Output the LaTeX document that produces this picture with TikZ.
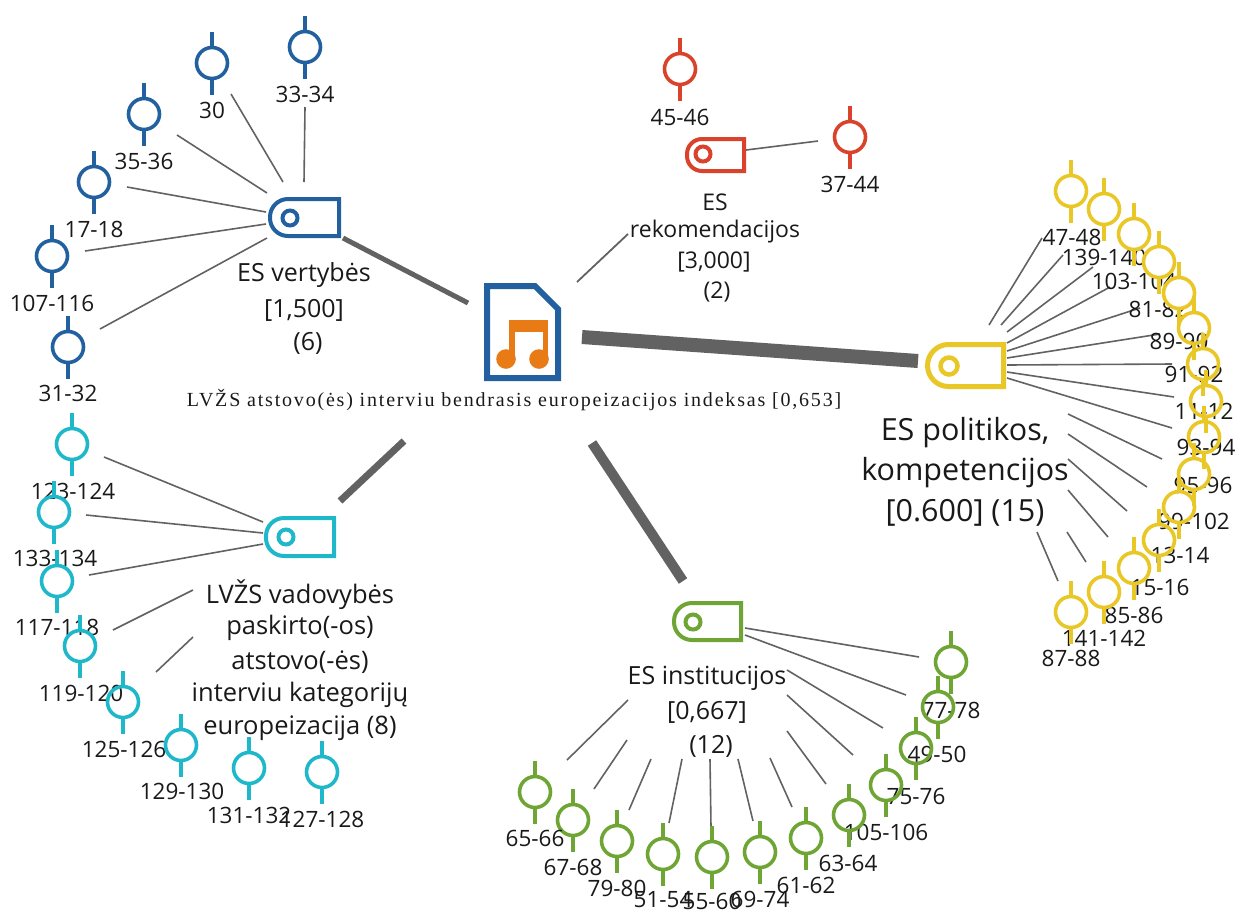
\documentclass[tikz,border=0pt]{standalone}
\usepackage{fontspec}
\setmainfont{Open Sans}
\newfontfamily\serifcap[LetterSpace=9]{Liberation Serif}
\definecolor{cblue}{HTML}{22609F}
\definecolor{cred}{HTML}{D9432C}
\definecolor{cyel}{HTML}{E8C726}
\definecolor{cteal}{HTML}{1FB8CA}
\definecolor{cgrn}{HTML}{6EA534}
\definecolor{cgray}{HTML}{626262}
\definecolor{corg}{HTML}{E97B16}
\tikzset{
  pinhead/.style={circle,draw=#1,minimum size=31pt,inner sep=0pt,outer sep=0pt,line width=3.6pt},
  pinstem/.style={draw=#1,line width=3.6pt},
  pinlabel/.style={inner sep=0pt,font=\fontsize{22.5}{22.5}\selectfont,text=black!90},
  captxt/.style={inner sep=0pt,align=center,text=black!90},
  link/.style={draw=cgray,line width=1.6pt},
  tagbody/.style={draw=#1,line width=4pt},
  tagring/.style={draw=#1,line width=4pt,minimum size=15pt},
}
\newcommand\pin[8][]{% opts,name,col,x,y,label,lx,ly
  \node[pinhead=#3,#1] (#2) at (#4,#5) {};
  \draw[pinstem=#3] (#2.north) -- ++(0,-16);
  \draw[pinstem=#3] (#2.south) -- ++(0,16);
  \node[pinlabel] (#2-t) at (#7,#8) {#6};
}
\newcommand\lnk[5][]{% opts, name, x1,y1 ; x2,y2
  \coordinate (#2-a) at (#3);
  \coordinate (#2-b) at (#4);
  \draw[link,#1] (#2-a) -- (#2-b);
  #5
}
\newcommand\tagmark[9][18pt]{% radius,name,col,x1,y1,x2,y2,rx,ry
  \draw[tagbody=#3] (#6,#5) -- (#6,#7) [rounded corners=#1] -- (#4,#7) -- (#4,#5) [sharp corners] -- cycle;
  \node[circle,tagring=#3,inner sep=0pt,outer sep=0pt] (#2) at (#8,#9) {};
}
\begin{document}
\begin{tikzpicture}[x=1pt,y=-1pt]
\useasboundingbox (0,0) rectangle (1239,911);

% ---------- main connectors
\lnk[line width=5pt]{mBlue}{468,303}{343,238}{}
\lnk[line width=1.8pt]{mRed}{577,282}{628,234}{}
\lnk[line width=14pt]{mYel}{582,337}{918,361}{}
\lnk[line width=10pt]{mGrn}{592,443}{683,581}{}
\lnk[line width=7pt]{mTeal}{404,441}{340,501}{}

% ---------- central icon
\draw[draw=cblue,line width=6pt,miter limit=10] (487,286) -- (535,286) -- (558,309) -- (558,378) -- (487,378) -- cycle;
\fill[corg] (509,320) rectangle (548,332);
\fill[corg] (509,320) rectangle (515,360);
\fill[corg] (543,320) rectangle (548,360);
\fill[corg] (506,359) circle (9.8pt);
\fill[corg] (539,359) circle (9.8pt);
\node[captxt,font=\serifcap\fontsize{20}{20}\selectfont] (title) at (514,400) {LVŽS atstovo(ės) interviu bendrasis europeizacijos indeksas [0,653]};

% ---------- blue group
\lnk{b1}{305,107}{304,182}{}
\lnk{b2}{231,94}{283,182}{}
\lnk{b3}{177,135}{267,193}{}
\lnk{b4}{127,187}{266,212}{}
\lnk{b5}{85,251}{266,224}{}
\lnk{b6}{100,329}{267,238}{}
\pin{p3334}{cblue}{305}{47}{33-34}{305}{94}
\pin{p30}{cblue}{212}{63}{30}{212}{110}
\pin{p3536}{cblue}{144}{114}{35-36}{144}{161}
\pin{p1718}{cblue}{94}{182}{17-18}{94}{229}
\pin{p107}{cblue}{52}{256}{107-116}{52}{303}
\pin{p3132}{cblue}{68}{347}{31-32}{68}{393}
\tagmark{tb}{cblue}{270}{199}{339}{236}{290}{218}
\node[captxt,font=\fontsize{25}{25}\selectfont] (tbt1) at (304,275) {ES vertybės};
\node[captxt,font=\fontsize{25}{25}\selectfont] (tbt2) at (304,310) {[1,500]};
\node[captxt,font=\fontsize{25}{25}\selectfont] (tbt3) at (308,343) {(6)};

% ---------- red group
\lnk{r1}{746,150}{818,141}{}
\pin{p4546}{cred}{680}{69}{45-46}{680}{117}
\pin{p3744}{cred}{850}{137}{37-44}{850}{184}
\tagmark[15pt]{tr}{cred}{687}{139}{744}{171}{703}{154}
\node[captxt,font=\fontsize{23}{23}\selectfont] (trt1) at (715,202) {ES};
\node[captxt,font=\fontsize{23}{23}\selectfont] (trt2) at (715,232) {rekomendacijos};
\node[captxt,font=\fontsize{23}{23}\selectfont] (trt3) at (714,262) {[3,000]};
\node[captxt,font=\fontsize{23}{23}\selectfont] (trt4) at (717,292) {(2)};

% ---------- yellow group
\lnk{y1}{989,325}{1042,238}{}
\lnk{y2}{1001,325}{1063,255}{}
\lnk{y3}{1007,332}{1093,267}{}
\lnk{y4}{1007,343}{1110,287}{}
\lnk{y5}{1007,351}{1140,308}{}
\lnk{y6}{1007,358}{1160,334}{}
\lnk{y7}{1007,365}{1172,364}{}
\lnk{y8}{1007,372}{1174,397}{}
\lnk{y9}{1007,378}{1172,428}{}
\lnk{y10}{1068,414}{1162,459}{}
\lnk{y11}{1068,434}{1147,487}{}
\lnk{y12}{1068,459}{1127,511}{}
\lnk{y13}{1068,490}{1108,537}{}
\lnk{y14}{1067,532}{1086,562}{}
\lnk{y15}{1037,532}{1058,581}{}
\pin[fill=white]{y4748}{cyel}{1071}{191}{47-48}{1072}{237}
\pin[fill=white]{y139}{cyel}{1104}{209}{139-140}{1104}{257}
\pin[fill=white]{y103}{cyel}{1134}{234}{103-104}{1134}{281}
\pin[fill=white]{y8182}{cyel}{1159}{262}{81-82}{1158}{309}
\pin[fill=white]{y8990}{cyel}{1179}{293}{89-90}{1179}{341}
\pin{y9192}{cyel}{1194}{328}{91-92}{1194}{374}
\pin{y1112}{cyel}{1203}{364}{11-12}{1204}{411}
\pin{y9394}{cyel}{1206}{401}{93-94}{1206}{447}
\pin{y9596}{cyel}{1204}{437}{95-96}{1203}{485}
\pin{y99}{cyel}{1194}{474}{99-102}{1194}{521}
\pin{y1314}{cyel}{1179}{507}{13-14}{1180}{555}
\pin{y1516}{cyel}{1159}{540}{15-16}{1160}{587}
\pin{y8586}{cyel}{1134}{568}{85-86}{1134}{615}
\pin{y141}{cyel}{1104}{592}{141-142}{1104}{638}
\pin{y8788}{cyel}{1071}{612}{87-88}{1071}{658}
{\tikzset{tagbody/.append style={line width=5pt},tagring/.append style={line width=4.5pt,minimum size=17pt}}
\tagmark[21pt]{ty}{cyel}{927.5}{344.5}{1003.5}{386.5}{949}{366}}
\node[captxt,font=\fontsize{30.5}{30.5}\selectfont] (tyt1) at (965,433) {ES politikos,};
\node[captxt,font=\fontsize{30.5}{30.5}\selectfont] (tyt2) at (965,473) {kompetencijos};
\node[captxt,font=\fontsize{30.5}{30.5}\selectfont] (tyt3) at (965,513) {[0.600] (15)};

% ---------- green group
\lnk{g1}{745,628}{919,657}{}
\lnk{g2}{745,635}{906,695}{}
\lnk{g3}{787,670}{883,728}{}
\lnk{g4}{787,695}{853,755}{}
\lnk{g5}{787,731}{826,784}{}
\lnk{g6}{770,758}{792,807}{}
\lnk{g7}{738,759}{753,821}{}
\lnk{g8}{710,759}{711,827}{}
\lnk{g9}{682,759}{669,823}{}
\lnk{g10}{651,759}{629,810}{}
\lnk{g11}{627,740}{594,789}{}
\lnk{g12}{628,700}{567,760}{}
\pin{g7778}{cgrn}{951}{662}{77-78}{951}{710}
\pin{g4950}{cgrn}{938}{707}{49-50}{937}{754}
\pin{g7576}{cgrn}{916}{748}{75-76}{916}{796}
\pin{g105}{cgrn}{886}{785}{105-106}{886}{832}
\pin{g6364}{cgrn}{849}{815}{63-64}{848}{863}
\pin{g6162}{cgrn}{806}{838}{61-62}{806}{885}
\pin{g6974}{cgrn}{760}{852}{69-74}{760}{899}
\pin{g5560}{cgrn}{712}{857}{55-60}{712}{901}
\pin{g5154}{cgrn}{663}{854}{51-54}{663}{900}
\pin{g7980}{cgrn}{617}{841}{79-80}{617}{888}
\pin{g6768}{cgrn}{573}{820}{67-68}{573}{867}
\pin{g6566}{cgrn}{535}{792}{65-66}{535}{838}
\tagmark{tg}{cgrn}{674}{603}{741}{640}{693}{622}
\node[captxt,font=\fontsize{25}{25}\selectfont] (tgt1) at (707,678) {ES institucijos};
\node[captxt,font=\fontsize{25}{25}\selectfont] (tgt2) at (707,712) {[0,667]};
\node[captxt,font=\fontsize{25}{25}\selectfont] (tgt3) at (711,746) {(12)};

% ---------- teal group
\lnk{t1}{104,457}{263,522}{}
\lnk{t2}{86,515}{263,533}{}
\lnk{t3}{89,575}{263,544}{}
\lnk{t4}{113,630}{193,590}{}
\lnk{t5}{156,672}{193,637}{}
\pin{t123}{cteal}{72}{444}{123-124}{73}{491}
\pin{t133}{cteal}{54}{512}{133-134}{55}{558}
\pin{t117}{cteal}{57}{581}{117-118}{57}{627}
\pin{t119}{cteal}{80}{646}{119-120}{81}{693}
\pin{t125}{cteal}{123}{702}{125-126}{124}{749}
\pin{t129}{cteal}{181}{745}{129-130}{182}{791}
\pin{t131}{cteal}{249}{768}{131-132}{249}{815}
\pin{t127}{cteal}{322}{772}{127-128}{322}{819}
\tagmark{tt}{cteal}{266}{518}{334}{556}{286}{537}
\node[captxt,font=\fontsize{25.5}{25.5}\selectfont] (ttt1) at (300,595) {LVŽS vadovybės};
\node[captxt,font=\fontsize{25.5}{25.5}\selectfont] (ttt2) at (300,628) {paskirto(-os)};
\node[captxt,font=\fontsize{25.5}{25.5}\selectfont] (ttt3) at (300,662) {atstovo(-ės)};
\node[captxt,font=\fontsize{25.5}{25.5}\selectfont] (ttt4) at (300,695) {interviu kategorijų};
\node[captxt,font=\fontsize{25.5}{25.5}\selectfont] (ttt5) at (300,728) {europeizacija (8)};
\end{tikzpicture}
\end{document}
